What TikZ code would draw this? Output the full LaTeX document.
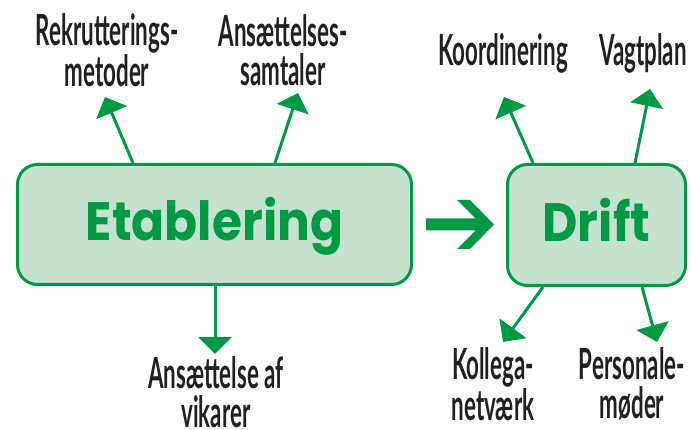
\documentclass[tikz,border=0pt]{standalone}
\usepackage{fontspec}
\usetikzlibrary{arrows.meta}
\newfontfamily\lblfont[FakeStretch=0.52]{Lato}
\newfontfamily\boxfont[FakeStretch=0.9]{Poppins}
\definecolor{grn}{RGB}{0,154,68}
\definecolor{lgrn}{RGB}{198,226,207}
\definecolor{ink}{RGB}{35,31,32}
\begin{document}
\begin{tikzpicture}[x=1pt,y=-1pt,
  stage/.style={draw=grn, fill=lgrn, line width=3pt, rounded corners=20pt,
    text=grn, font=\boxfont\bfseries\fontsize{54}{54}\selectfont,
    text height=38pt, text depth=5pt},
  lbl/.style={text=ink, font=\lblfont\bfseries\fontsize{43}{39}\selectfont, align=center, inner sep=0pt},
  conn/.style={draw=grn, line width=3pt, -{Triangle[length=17pt,width=33pt]}},
]
\useasboundingbox (0,0) rectangle (691,430);

% end points of the connectors
\coordinate (t1) at (105,97);
\coordinate (t2) at (298,93);
\coordinate (t3) at (215,354);
\coordinate (t4) at (504,97);
\coordinate (t5) at (650,89);
\coordinate (t6) at (503,342);
\coordinate (t7) at (657,342);

\node[stage, minimum width=394pt, minimum height=120pt] (etab) at (214.5,224.5) {Etablering};
\node[stage, minimum width=178pt, minimum height=121pt] (drift) at (596.5,225) {Drift};

\draw[conn] (133,0 |- etab.north) -- (t1);
\draw[conn] (275,0 |- etab.north) -- (t2);
\draw[conn] (215,0 |- etab.south) -- (t3);
\draw[conn] (533,0 |- drift.north) -- (t4);
\draw[conn] (635,0 |- drift.north) -- (t5);
\draw[conn] (543,0 |- drift.south) -- (t6);
\draw[conn] (642,0 |- drift.south) -- (t7);

% big arrow between the stages
\fill[grn] (426,218.5) -- (475.5,218.5) -- (457,200) -- (470,200) -- (494,224.5)
  -- (470,249) -- (457,249) -- (475.5,230.5) -- (426,230.5) -- cycle;

\node[lbl] (l1) at (107,50) {Rekrutterings-\\metoder};
\node[lbl] (l2) at (283,50) {Ansættelses-\\samtaler};
\node[lbl] (l3) at (503,53) {Koordinering};
\node[lbl] (l4) at (643,53) {Vagtplan};
\node[lbl] (l5) at (216,392) {Ansættelse af\\vikarer};
\node[lbl] (l6) at (493,384) {Kollega-\\netværk};
\node[lbl] (l7) at (632,384) {Personale-\\møder};
\end{tikzpicture}
\end{document}
